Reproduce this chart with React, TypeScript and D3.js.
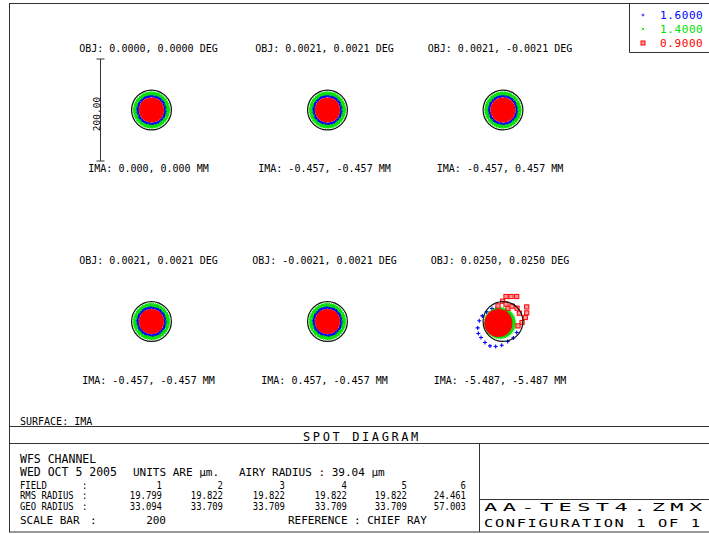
import * as React from "react"
import * as d3 from "d3"

// wavelengths (µm) in legend order and their colours
const WAVELENGTHS = ["1.6000", "1.4000", "0.9000"]
const WAVE_COLORS = ["#0000ff", "#00e000", "#ff0000"]

const OBJ_LABELS = [
  "OBJ: 0.0000, 0.0000 DEG",
  "OBJ: 0.0021, 0.0021 DEG",
  "OBJ: 0.0021, -0.0021 DEG",
  "OBJ: 0.0021, 0.0021 DEG",
  "OBJ: -0.0021, 0.0021 DEG",
  "OBJ: 0.0250, 0.0250 DEG",
]
const IMA_LABELS = [
  "IMA: 0.000, 0.000 MM",
  "IMA: -0.457, -0.457 MM",
  "IMA: -0.457, 0.457 MM",
  "IMA: -0.457, -0.457 MM",
  "IMA: 0.457, -0.457 MM",
  "IMA: -5.487, -5.487 MM",
]

const FIELDS = ["1", "2", "3", "4", "5", "6"]
const RMS_RADIUS = ["19.799", "19.822", "19.822", "19.822", "19.822", "24.461"]
const GEO_RADIUS = ["33.094", "33.709", "33.709", "33.709", "33.709", "57.003"]
const AIRY_RADIUS = 39.04
const SCALE_BAR = 200

// per field dense spot core in µm: [centre x, centre y, inner radius, outer radius]
const BLUE_SPOT = [
  [0, 0, 26.5, 28],
  [0, 0, 26.5, 28],
  [0, 0, 26.5, 28],
  [0, 0, 26.5, 28],
  [0, 0, 26.5, 28],
  [-10, -4, 0, 18],
]
const GREEN_SPOT = [
  [0, 0, 29.5, 34],
  [0, 0, 29.5, 34],
  [0, 0, 29.5, 34],
  [0, 0, 29.5, 34],
  [0, 0, 29.5, 34],
  [-6, -3, 20, 29],
]
const RED_SPOT = [
  [0, 0, 0, 21],
  [0, 0, 0, 21],
  [0, 0, 0, 21],
  [0, 0, 0, 21],
  [0, 0, 0, 21],
  [-9, -3, 0, 24],
]

// stray rays of field 6, µm from the chief ray
const FIELD6_BLUE_X = [-46.5, -49.6, -48.4, -43.1, -35.3, -25.5, -14.3, -2.5, 9.2, 20.2, 26.9, -40.6, -32, -21.6, -11.8]
const FIELD6_BLUE_Y = [1.6, -12.5, -23.5, -31.4, -41.2, -47.8, -49, -46.5, -39.2, -32.2, -21.6, 11, 18.8, 25.5, 27]
const FIELD6_RED_X = [5.9, 15.7, 26.9, 46.5, 46.5, 43.7, 37.3, 29.4, -9.8, -0.6, 27.5, 32, 9.8, 17.6, 5.9]
const FIELD6_RED_Y = [49, 49, 49, 28.6, 16.9, 7.8, -2, -8.6, 30.6, 39.8, 26.1, 16.3, 26, 30, 34]

const PUPIL_RINGS = 8
const COL_X = [151.5, 327.5, 503]
const ROW_Y = [110, 321.5]

const FONT = "'DejaVu Sans Mono', monospace"

// hexapolar pupil sampling
function pupil(n: number) {
  const pts: { rho: number; theta: number }[] = [{ rho: 0, theta: 0 }]
  for (let i = 1; i <= n; i++) {
    for (let k = 0; k < 6 * i; k++) {
      pts.push({ rho: i / n, theta: (2 * Math.PI * k) / (6 * i) + i * 0.37 })
    }
  }
  return pts
}

export default function App() {
  const um = d3.scaleLinear().domain([0, SCALE_BAR]).range([0, 102])
  const rays = pupil(PUPIL_RINGS)
  const specs = [BLUE_SPOT, GREEN_SPOT, RED_SPOT]

  const corePoints = (f: number, w: number) =>
    rays.map((p) => {
      const [cx, cy, r0, r1] = specs[w][f]
      const r = r0 + (r1 - r0) * p.rho
      return [cx + r * Math.cos(p.theta), cy + r * Math.sin(p.theta)]
    })

  const strays = (f: number, w: number) => {
    if (f !== 5) return []
    if (w === 0) return FIELD6_BLUE_X.map((x, i) => [x, FIELD6_BLUE_Y[i]])
    if (w === 2) return FIELD6_RED_X.map((x, i) => [x, FIELD6_RED_Y[i]])
    return []
  }

  const marker = (w: number, x: number, y: number, key: string | number, big = false) => {
    const c = WAVE_COLORS[w]
    if (w === 0) {
      const a = big ? 2 : 1.4
      return (
        <path key={key} d={`M${x - a},${y}H${x + a}M${x},${y - a}V${y + a}`} stroke={c} strokeWidth={big ? 1.1 : 0.8} />
      )
    }
    if (w === 1)
      return (
        <path
          key={key}
          d={`M${x - 1.3},${y - 1.3}L${x + 1.3},${y + 1.3}M${x - 1.3},${y + 1.3}L${x + 1.3},${y - 1.3}`}
          stroke={c}
          strokeWidth={0.75}
        />
      )
    if (big)
      return <rect key={key} x={x - 2.1} y={y - 2.1} width={4.2} height={4.2} fill="#ff9a9a" stroke={c} strokeWidth={1} />
    return <rect key={key} x={x - 1.6} y={y - 1.6} width={3.2} height={3.2} fill={c} />
  }

  const drawOrder = [0, 1, 2]

  const smallRows: [string, string[], number][] = [
    ["FIELD", FIELDS, 489],
    ["RMS RADIUS", RMS_RADIUS, 499.5],
    ["GEO RADIUS", GEO_RADIUS, 510.5],
  ]
  const colRight = [162, 223, 285, 347, 407, 466]
  const sx = 0.85

  return (
    <svg
      width={709}
      height={534}
      style={{ position: "absolute", left: 0, top: 0, background: "#fff", fontFamily: FONT }}
    >
      {/* frame */}
      <g fill="none" stroke="#333" strokeWidth={1}>
        <rect x={9.5} y={3.5} width={720} height={528.5} />
        <path d="M629.5,3.5V52.5H720" />
        <path d="M9.5,426.5H720M9.5,443.5H720M479.5,443.5V532M479.5,499.5H720" />
      </g>

      {/* legend */}
      {WAVELENGTHS.map((w, i) => (
        <g key={w}>
          {i === 2 ? (
            <rect x={641} y={41} width={4} height={4} fill="#ff9a9a" stroke={WAVE_COLORS[2]} strokeWidth={1} />
          ) : (
            marker(i, 643, 15 + i * 14, "m")
          )}
          <text x={660} y={19 + i * 14} fontSize={11} fill={WAVE_COLORS[i]} letterSpacing={0.6}>
            {w}
          </text>
        </g>
      ))}

      {/* scale bar */}
      <g stroke="#333" strokeWidth={1}>
        <line x1={100.5} x2={100.5} y1={ROW_Y[0] - um(SCALE_BAR / 2)} y2={ROW_Y[0] + um(SCALE_BAR / 2)} />
        <line x1={96.5} x2={104.5} y1={ROW_Y[0] - um(SCALE_BAR / 2)} y2={ROW_Y[0] - um(SCALE_BAR / 2)} />
        <line x1={96.5} x2={104.5} y1={ROW_Y[0] + um(SCALE_BAR / 2)} y2={ROW_Y[0] + um(SCALE_BAR / 2)} />
      </g>
      <text transform="translate(100,114) rotate(-90)" textAnchor="middle" fontSize={9.5}>
        {SCALE_BAR.toFixed(2)}
      </text>

      {/* spots */}
      {FIELDS.map((_, f) => {
        const cx = COL_X[f % 3]
        const cy = ROW_Y[Math.floor(f / 3)]
        return (
          <g key={f}>
            <text x={cx - 3} y={cy - 58} fontSize={10} textAnchor="middle">
              {OBJ_LABELS[f]}
            </text>
            <text x={cx - 3} y={cy + 62} fontSize={10} textAnchor="middle">
              {IMA_LABELS[f]}
            </text>
            {drawOrder.map((w) => (
              <g key={w}>
                {corePoints(f, w).map(([x, y], i) => marker(w, cx + um(x), cy - um(y), i))}
                {strays(f, w).map(([x, y], i) => marker(w, cx + um(x), cy - um(y), "s" + i, true))}
              </g>
            ))}
            <circle cx={cx} cy={cy} r={um(AIRY_RADIUS)} fill="none" stroke="#111" strokeWidth={1.2} />
          </g>
        )
      })}

      {/* bottom block */}
      <text x={20} y={425} fontSize={10}>SURFACE: IMA</text>
      <text x={362} y={441} fontSize={12} textAnchor="middle" letterSpacing={2.6}>
        SPOT DIAGRAM
      </text>
      <text x={20} y={463} fontSize={11.5}>WFS CHANNEL</text>
      <text x={20} y={476} fontSize={11.5}>WED OCT 5 2005</text>
      <text x={133} y={476} fontSize={11}>UNITS ARE µm.</text>
      <text x={239} y={476} fontSize={11}>{`AIRY RADIUS : ${AIRY_RADIUS.toFixed(2)} µm`}</text>

      <g transform={`scale(${sx},1)`} fontSize={10.5}>
        {smallRows.map(([label, vals, y]) => (
          <g key={label}>
            <text x={20 / sx} y={y}>{label}</text>
            <text x={82 / sx} y={y}>:</text>
            {vals.map((v, i) => (
              <text key={i} x={colRight[i] / sx} y={y} textAnchor="end">
                {v}
              </text>
            ))}
          </g>
        ))}
      </g>
      <text x={20} y={524} fontSize={11}>SCALE BAR</text>
      <text x={90} y={524} fontSize={11}>:</text>
      <text x={166} y={524} fontSize={11} textAnchor="end">{SCALE_BAR}</text>
      <text x={288} y={524} fontSize={11}>REFERENCE</text>
      <text x={354} y={524} fontSize={11}>: CHIEF RAY</text>

      <text transform="translate(484,511) scale(2.2,1)" fontSize={10} letterSpacing={2.45}>
        AA-TEST4.ZMX
      </text>
      <text transform="translate(484,527) scale(1.4,1)" fontSize={11} letterSpacing={1.15}>
        CONFIGURATION 1 OF 1
      </text>
    </svg>
  )
}
